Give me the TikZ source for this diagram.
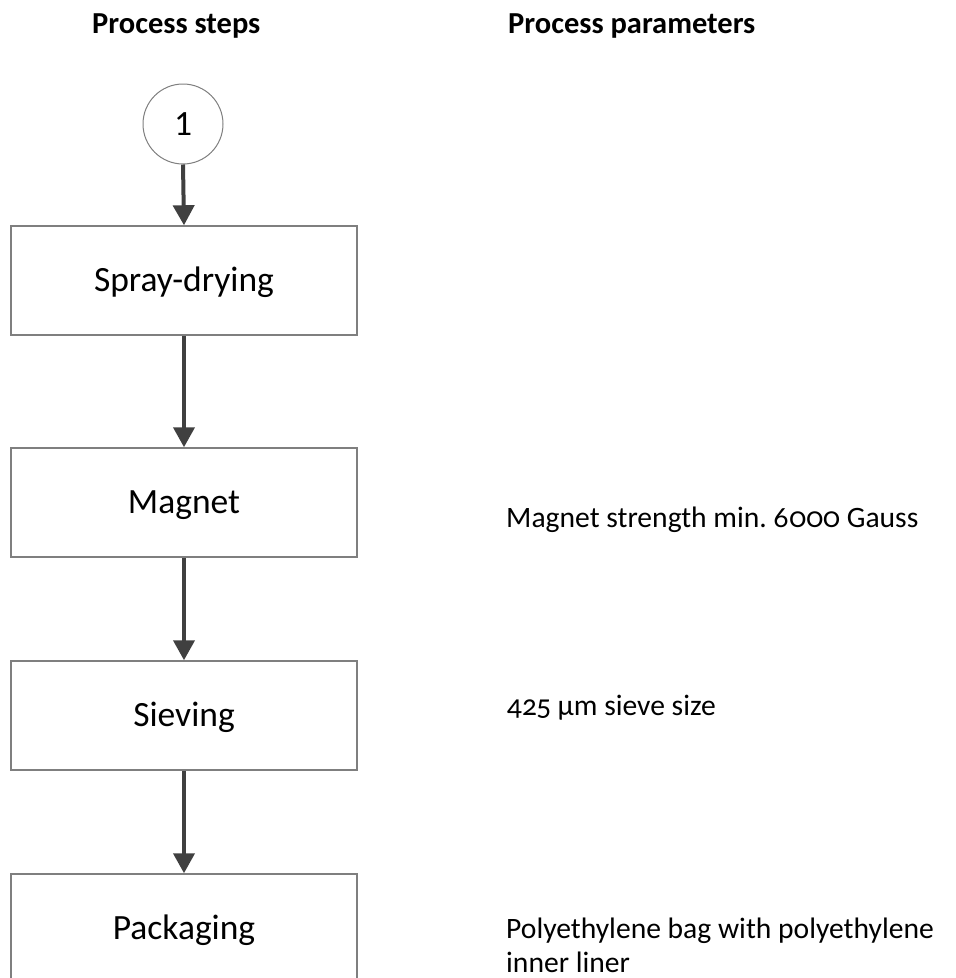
\documentclass[tikz,border=0pt]{standalone}
\usepackage{fontspec}
\setmainfont{Carlito}
\newfontfamily\paramfont[Numbers={OldStyle,Proportional}]{Carlito}
\usetikzlibrary{arrows.meta}
\definecolor{boxgray}{HTML}{7F7F7F}
\definecolor{arrgray}{HTML}{404040}
\frenchspacing
\tikzset{
  stepbox/.style={draw=boxgray, line width=1.5pt, minimum width=346pt, minimum height=109pt,
    inner sep=0pt, font=\fontsize{35.5}{42}\selectfont, text height=24pt, text depth=3pt},
  startcirc/.style={draw=boxgray, line width=1pt, circle, minimum size=80pt, inner sep=0pt,
    font=\fontsize{35.5}{42}\selectfont},
  flow/.style={draw=arrgray, line width=4pt, -{Triangle[length=20pt,width=21pt]}},
  heading/.style={font=\fontsize{30.5}{34}\selectfont\bfseries, inner sep=0pt, anchor=base west},
  param/.style={font=\fontsize{29.6}{34}\selectfont\paramfont, inner sep=0pt, anchor=base west, align=left}
}
\begin{document}
\begin{tikzpicture}[x=1pt,y=-1pt]
\useasboundingbox (0,0) rectangle (956,978);
\clip (0,0) rectangle (956,978);
\node[heading] (h1) at (92,33) {Process steps};
\node[heading] (h2) at (508,33) {Process parameters};
\node[startcirc] (c1) at (183,124) {1};
\node[stepbox] (s1) at (184,280.5) {Spray-drying};
\node[stepbox] (s2) at (184,502.5) {Magnet};
\node[stepbox] (s3) at (184,715.5) {Sieving};
\node[stepbox] (s4) at (184,928.5) {Packaging};
\draw[flow] (c1.south) -- (s1.north);
\draw[flow] (s1.south) -- (s2.north);
\draw[flow] (s2.south) -- (s3.north);
\draw[flow] (s3.south) -- (s4.north);
\node[param] (p1) at (506,527) {Magnet strength min.\ 6000 Gauss};
\node[param] (p2) at (506,715) {425 µm sieve size};
\node[param] (p3) at (506,938) {Polyethylene bag with polyethylene};
\node[param] (p4) at (506,972) {inner liner};
\end{tikzpicture}
\end{document}
